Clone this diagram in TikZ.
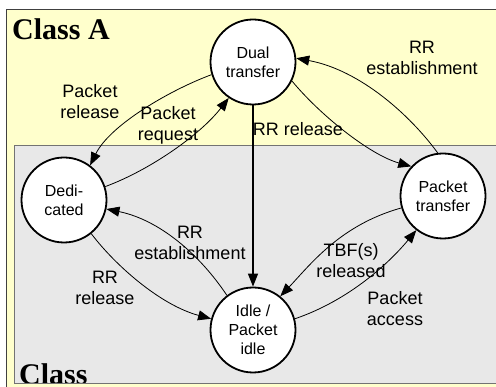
\documentclass[tikz,border=0pt]{standalone}
\usepackage{fontspec}
\setmainfont{Liberation Sans}
\newfontfamily\clsfont{Liberation Serif}
\usetikzlibrary{arrows.meta}
\definecolor{ylw}{RGB}{255,255,204}
\definecolor{gry}{RGB}{232,232,232}
\begin{document}
\begin{tikzpicture}[x=1pt,y=-1pt,
  state/.style={circle,draw,line width=1.8pt,fill=white,minimum size=85pt,inner sep=0pt,align=center,font=\fontsize{16}{19}\selectfont},
  lbl/.style={align=center,inner sep=0pt,font=\fontsize{18}{21}\selectfont},
  tr/.style={line width=0.8pt,-{Triangle[length=13pt,width=10pt]}}]
\clip (0,0) rectangle (496,387);
\fill[white] (0,0) rectangle (496,387);
\draw[fill=ylw,draw=black!75] (6,9) rectangle (510,400);
\draw[fill=gry,draw=black!55] (14,145) rectangle (510,383);
\begin{scope}
\clip (14,145) rectangle (510,383);
\node[anchor=base west,inner sep=0pt,font=\clsfont\bfseries\fontsize{30}{30}\selectfont] (cb) at (19,384.5) {Class};
\end{scope}
\draw[draw=black!55] (14,383) -- (510,383);
\node[anchor=base west,inner sep=0pt,font=\clsfont\bfseries\fontsize{30}{30}\selectfont] (ca) at (12,40) {Class A};

\node[state] (dual) at (253,62) {Dual\\transfer};
\node[state] (ded) at (64,200) {Dedi-\\cated};
\node[state] (pt) at (443,196) {Packet\\transfer};
\node[state] (idle) at (253,330) {Idle /\\Packet\\idle};

\draw[tr] (dual.197) .. controls (170,90) and (110,125) .. (ded.53);
\draw[tr] (ded.18) .. controls (150,170) and (200,135) .. (dual.236);
\draw[tr] (pt.97) .. controls (410,115) and (360,70) .. (dual.5);
\draw[tr] (dual.334) .. controls (320,115) and (370,155) .. (pt.137);
\draw[tr,line width=1.3pt] (dual.south) -- (idle.north);
\draw[tr] (idle.127) .. controls (200,255) and (160,220) .. (ded.348);
\draw[tr] (ded.309) .. controls (115,265) and (160,305) .. (idle.165);
\draw[tr] (pt.196) .. controls (340,225) and (310,265) .. (idle.51);
\draw[tr] (idle.15) .. controls (350,300) and (390,262) .. (pt.232);

\node[lbl] (l1) at (90,102) {Packet\\release};
\node[lbl] (l2) at (168,125) {Packet\\request};
\node[lbl] (l3) at (422,58) {RR\\establishment};
\node[lbl] (l4) at (298,129) {RR release};
\node[lbl] (l5) at (190,243) {RR\\establishment};
\node[lbl] (l6) at (105,288) {RR\\release};
\node[lbl] (l7) at (351,261) {TBF(s)\\released};
\node[lbl] (l8) at (395,309) {Packet\\access};
\end{tikzpicture}
\end{document}
